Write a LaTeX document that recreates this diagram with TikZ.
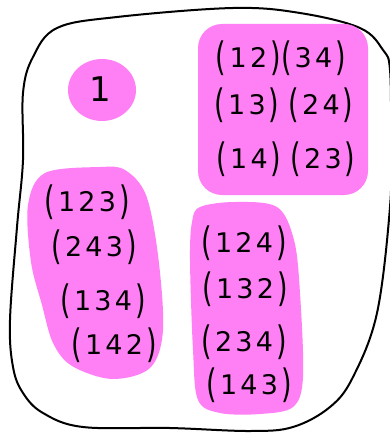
\documentclass[tikz,border=0pt]{standalone}
\usepackage{graphicx}
\usepackage{fontspec}
\newfontfamily\hand{DejaVu Sans}
\definecolor{blob}{RGB}{255,128,245}
\newcommand\lpar{\raisebox{-0.12em}{\scalebox{1}[1.45]{(}}}
\newcommand\rpar{\raisebox{-0.12em}{\scalebox{1}[1.45]{)}}}
\newcommand\gp{\hspace{3.2pt}}
\newcommand\wgp{\hspace{9pt}}
\begin{document}
\begin{tikzpicture}[x=1pt,y=-1pt,
  blobfill/.style={fill=blob,draw=none},
  perm/.style={inner sep=0pt,font=\hand\fontsize{27}{27}\selectfont,text=black}]
\useasboundingbox (0,0) rectangle (390,433);
\begin{scope}
\clip (0,0) rectangle (390,433);
% outer boundary
\draw[line width=2pt,line join=round] plot[smooth cycle,tension=0.6] coordinates {
  (57,28) (117,17) (233,8) (300,13) (360,28) (383,50) (390,70) (391,140)
  (390,207) (377,313) (353,377) (330,407) (293,427) (250,431) (170,428)
  (83,427) (43,413) (23,393) (13,367) (10,320) (17,227) (23,160) (23,93) (33,57)};
\end{scope}
% blobs
\fill[blobfill] (102,90) ellipse (34 and 31);
\fill[blobfill,rounded corners=24pt] (198,24) rectangle (368,195);
\fill[blobfill] plot[smooth cycle,tension=0.55] coordinates {
  (100,167) (45,173) (28,205) (31,262) (42,305) (53,343) (72,366) (112,379)
  (150,368) (163,330) (158,255) (146,195) (125,170)};
\fill[blobfill] plot[smooth cycle,tension=0.55] coordinates {
  (200,207) (235,202) (277,207) (294,240) (300,293) (303,377) (293,407)
  (260,414) (220,413) (198,400) (193,350) (190,260) (192,222)};
% texts
\node[perm,font=\hand\fontsize{34}{34}\selectfont] (one) at (100,89) {1};
\node[perm] (a1) at (281,58) {\lpar\gp1\gp2\gp\rpar\lpar\gp3\gp4\gp\rpar};
\node[perm] (a2) at (284,105) {\lpar\gp1\gp3\gp\rpar\wgp\lpar\gp2\gp4\gp\rpar};
\node[perm] (a3) at (286,159) {\lpar\gp1\gp4\gp\rpar\wgp\lpar\gp2\gp3\gp\rpar};
\node[perm] (b1) at (87,202) {\lpar\gp1\gp2\gp3\gp\rpar};
\node[perm] (b2) at (94,247) {\lpar\gp2\gp4\gp3\gp\rpar};
\node[perm] (b3) at (103,301) {\lpar\gp1\gp3\gp4\gp\rpar};
\node[perm] (b4) at (114,345) {\lpar\gp1\gp4\gp2\gp\rpar};
\node[perm] (c1) at (244,243) {\lpar\gp1\gp2\gp4\gp\rpar};
\node[perm] (c2) at (245,289) {\lpar\gp1\gp3\gp2\gp\rpar};
\node[perm] (c3) at (244,342) {\lpar\gp2\gp3\gp4\gp\rpar};
\node[perm] (c4) at (249,385) {\lpar\gp1\gp4\gp3\gp\rpar};
\end{tikzpicture}
\end{document}
